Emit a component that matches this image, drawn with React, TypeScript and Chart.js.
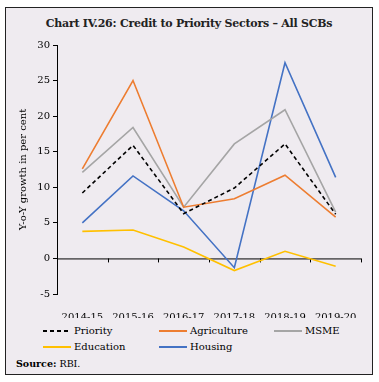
import React, { useEffect, useRef } from "react";
import { Chart, registerables } from "chart.js";

Chart.register(...registerables);

const categories = ["2014-15", "2015-16", "2016-17", "2017-18", "2018-19", "2019-20"];
const priority = [9.2, 15.9, 6.3, 9.9, 16.1, 6.2];
const agriculture = [12.6, 25.0, 7.2, 8.4, 11.7, 5.8];
const msme = [12.1, 18.4, 7.2, 16.1, 20.9, 6.5];
const education = [3.8, 4.0, 1.6, -1.7, 1.0, -1.1];
const housing = [5.0, 11.6, 6.7, -1.3, 27.5, 11.4];
const yTicks = [-5, 0, 5, 10, 15, 20, 25, 30];

const FONT = "'DejaVu Serif', serif";

const series = [
  { label: "Priority", data: priority, color: "#000000", dash: [4, 3] },
  { label: "Agriculture", data: agriculture, color: "#ed7d31", dash: [] },
  { label: "MSME", data: msme, color: "#a5a5a5", dash: [] },
  { label: "Education", data: education, color: "#ffc000", dash: [] },
  { label: "Housing", data: housing, color: "#4472c4", dash: [] },
];

const zeroLinePlugin = {
  id: "zeroLine",
  beforeDatasetsDraw(chart: any) {
    const { ctx, scales } = chart;
    const x = scales.x;
    const y = scales.y;
    const y0 = y.getPixelForValue(0);
    ctx.save();
    ctx.strokeStyle = "#000";
    ctx.lineWidth = 1;
    ctx.beginPath();
    ctx.moveTo(x.left, y0 + 0.5);
    ctx.lineTo(x.right, y0 + 0.5);
    const n = categories.length;
    for (let i = 0; i <= n; i++) {
      const px = Math.round(x.left + ((x.right - x.left) * i) / n) + 0.5;
      ctx.moveTo(px, y0);
      ctx.lineTo(px, y0 + 4);
    }
    ctx.stroke();
    ctx.restore();
  },
};

function LegendLine({ color, dash }: { color: string; dash: number[] }) {
  return (
    <svg width={28} height={6} style={{ display: "block", marginRight: 3 }}>
      <line
        x1={0}
        y1={3}
        x2={28}
        y2={3}
        stroke={color}
        strokeWidth={2}
        strokeDasharray={dash.length ? dash.join(" ") : undefined}
      />
    </svg>
  );
}

export default function App() {
  const ref = useRef<HTMLCanvasElement | null>(null);
  useEffect(() => {
    if (!ref.current) return;
    const chart = new Chart(ref.current, {
      type: "line",
      data: {
        labels: categories,
        datasets: series.map((s) => ({
          label: s.label,
          data: s.data,
          borderColor: s.color,
          backgroundColor: s.color,
          borderWidth: 1.6,
          borderDash: s.dash,
          pointRadius: 0,
          tension: 0,
          fill: false,
        })),
      },
      options: {
        animation: false,
        responsive: false,
        layout: { padding: { top: 17, right: 11, left: 0, bottom: 0 } },
        plugins: {
          legend: { display: false },
          tooltip: { enabled: false },
          title: { display: false },
        },
        scales: {
          x: {
            offset: true,
            grid: { display: false },
            border: { display: false },
            ticks: { color: "#000", padding: 9, font: { family: FONT, size: 10 }, maxRotation: 0 },
            afterFit: (s: any) => {
              s.height = 24;
            },
          },
          y: {
            min: -5,
            max: 30,
            afterBuildTicks: (s: any) => {
              s.ticks = yTicks.map((v) => ({ value: v }));
            },
            grid: { display: true, drawOnChartArea: false, tickLength: 4, color: "#000" },
            border: { display: true, color: "#000", width: 1 },
            ticks: { color: "#000", padding: 3, font: { family: FONT, size: 10 } },
            title: {
              display: true,
              text: "Y-o-Y growth in per cent",
              color: "#000",
              font: { family: FONT, size: 10 },
              padding: { top: 11, bottom: 0 },
            },
            afterFit: (s: any) => {
              s.width = 51;
            },
          },
        },
      },
      plugins: [zeroLinePlugin],
    });
    return () => chart.destroy();
  }, []);

  const legendItem = (s: (typeof series)[number], left: number, top: number) => (
    <div
      key={s.label}
      style={{ position: "absolute", left, top, display: "flex", alignItems: "center", fontFamily: FONT, fontSize: 10, color: "#000", lineHeight: "12px" }}
    >
      <LegendLine color={s.color} dash={s.dash} />
      <span>{s.label}</span>
    </div>
  );

  return (
    <div
      style={{
        position: "absolute",
        left: 5,
        top: 7,
        width: 366,
        height: 366,
        border: "1.5px solid #222",
        background: "#efebf0",
        boxSizing: "content-box",
      }}
    >
      <div
        style={{
          position: "absolute",
          left: 0,
          top: 9,
          width: "100%",
          textAlign: "center",
          fontFamily: FONT,
          fontWeight: "bold",
          fontSize: 11,
          letterSpacing: -0.25,
          lineHeight: "13px",
          whiteSpace: "nowrap",
          color: "#222",
        }}
      >
        Chart IV.26: Credit to Priority Sectors – All SCBs
      </div>
      <canvas ref={ref} width={366} height={290} style={{ position: "absolute", left: 0, top: 20 }} />
      {legendItem(series[0], 37, 317)}
      {legendItem(series[1], 153, 317)}
      {legendItem(series[2], 268, 317)}
      {legendItem(series[3], 37, 333)}
      {legendItem(series[4], 153, 333)}
      <div style={{ position: "absolute", left: 10, top: 350, fontFamily: FONT, fontSize: 9.5, color: "#000" }}>
        <b>Source:</b> RBI.
      </div>
    </div>
  );
}
